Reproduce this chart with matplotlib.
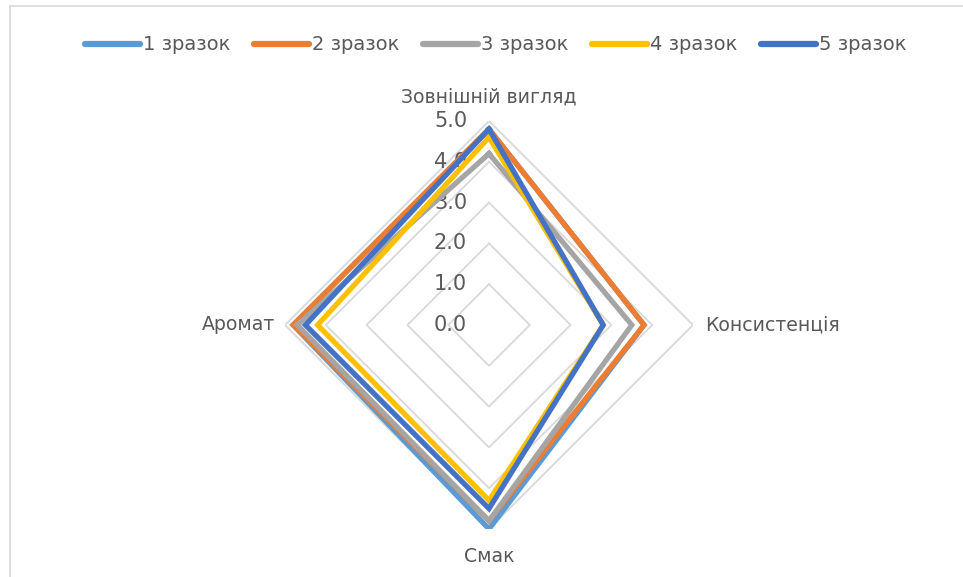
import numpy as np
import matplotlib
matplotlib.use('Agg')
import matplotlib.pyplot as plt
from matplotlib.lines import Line2D

plt.rcParams['font.family'] = ['DejaVu Sans']

# scores per criterion (0..5)
categories = ['Зовнішній вигляд', 'Консистенція', 'Смак', 'Аромат']
series_names = ['1 зразок', '2 зразок', '3 зразок', '4 зразок', '5 зразок']
s1 = [4.8, 3.8, 5.0, 4.8]
s2 = [4.8, 3.8, 4.8, 4.8]
s3 = [4.2, 3.5, 4.8, 4.7]
s4 = [4.6, 2.8, 4.3, 4.2]
s5 = [4.8, 2.8, 4.5, 4.5]
levels = [0.0, 1.0, 2.0, 3.0, 4.0, 5.0]

colors = ['#5B9BD5', '#ED7D31', '#A5A5A5', '#FFC000', '#4472C4']
txt = '#595959'
grid = '#D9D9D9'

fig = plt.figure(figsize=(9.63, 5.77), dpi=100)
W, H = 963, 577
cx, cy, R = 489, 325, 204
ax = fig.add_axes([(cx - R) / W, (H - cy - R) / H, 2 * R / W, 2 * R / H],
                  projection='polar')
ax.set_theta_offset(np.pi / 2)
ax.set_theta_direction(-1)
ax.set_ylim(0, 5)
ax.grid(False)
ax.spines['polar'].set_visible(False)
ax.set_xticks([])
ax.set_yticks([])
ax.patch.set_alpha(0)

theta = np.arange(len(categories)) * 2 * np.pi / len(categories)
closed = np.append(theta, theta[0])

# diamond grid
for lv in levels[1:]:
    ax.plot(closed, [lv] * (len(categories) + 1), color=grid, lw=1.3, zorder=1)

for lv in levels:
    ax.annotate(f'{lv:.1f}', xy=(0, lv), xytext=(-22, 0), textcoords='offset pixels',
                ha='right', va='center', fontsize=15, color=txt)

offsets = [((0, 24), 'center', 'center'), ((12, 0), 'left', 'center'),
           ((0, -27), 'center', 'center'), ((-10, 0), 'right', 'center')]
for th, name, (off, ha, va) in zip(theta, categories, offsets):
    ax.annotate(name, xy=(th, 5), xytext=off, textcoords='offset pixels',
                ha=ha, va=va, fontsize=13.6, color=txt)

for vals, c, name in zip([s1, s2, s3, s4, s5], colors, series_names):
    ax.plot(closed, vals + vals[:1], color=c, lw=3.8, label=name,
            solid_joinstyle='miter', zorder=3)

handles = [Line2D([], [], color=c, lw=4.5, solid_capstyle='round') for c in colors]
fig.legend(handles, series_names, loc='center',
           bbox_to_anchor=(0.5 + 14 / W, 1 - 45 / H),
           ncol=5, frameon=False, fontsize=14, handlelength=2.85,
           handletextpad=0.15, columnspacing=1.2, labelcolor=txt)

# chart area border (top and left edges)
fig.add_artist(Line2D([10 / W, 10 / W], [0, 1 - 6 / H], color=grid, lw=1.2))
fig.add_artist(Line2D([10 / W, 1], [1 - 6 / H, 1 - 6 / H], color=grid, lw=1.2))

fig.savefig('out.png', dpi=100, facecolor='white')
